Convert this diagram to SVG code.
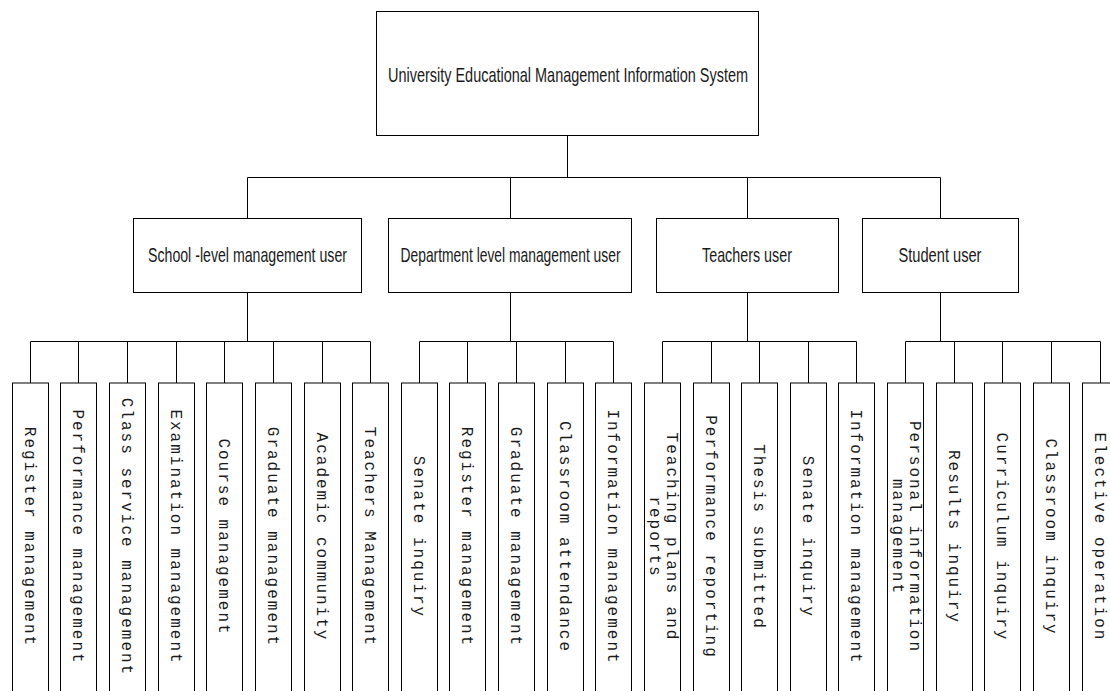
<svg xmlns="http://www.w3.org/2000/svg" width="1110" height="691" viewBox="0 0 1110 691">
<style>
.box{fill:#fff;stroke:#000;stroke-width:1}
.ln{fill:none;stroke:#000;stroke-width:1}
.hd{font-family:"Liberation Sans Narrow","Liberation Sans",Arial,sans-serif;font-size:18px;fill:#1a1a1a;text-anchor:middle}
.lf{font-family:"Liberation Mono","Courier New",monospace;font-size:16px;letter-spacing:2px;fill:#1a1a1a;text-anchor:middle;dominant-baseline:central}
</style>
<rect width="1110" height="691" fill="#fff"/>
<g id="connectors">
<path class="ln" d="M567.5 135.5V177.5M247.5 177.5H940.5M247.5 177.5V218.5M510.5 177.5V218.5M747.5 177.5V218.5M940.5 177.5V218.5"/>
<path class="ln" d="M247.5 292.5V341.5M510.5 292.5V341.5M747.5 292.5V341.5M940.5 292.5V341.5"/>
<path class="ln" d="M30.5 341.5H370.5M419.5 341.5H613.5M662.5 341.5H856.5M905.5 341.5H1100.5"/>
<path class="ln" d="M30.5 341.5V383M78.5 341.5V383M127.5 341.5V383M176.5 341.5V383M224.5 341.5V383M273.5 341.5V383M322.5 341.5V383M370.5 341.5V383M419.5 341.5V383M467.5 341.5V383M516.5 341.5V383M565.5 341.5V383M613.5 341.5V383M662.5 341.5V383M711.5 341.5V383M759.5 341.5V383M808.5 341.5V383M856.5 341.5V383M905.5 341.5V383M954.5 341.5V383M1002.5 341.5V383M1051.5 341.5V383M1100.5 341.5V383"/>
</g>
<g id="root"><rect class="box" x="376.5" y="11.5" width="382" height="124"/><text class="hd" transform="translate(568 82) scale(1 1.15)" x="0" y="0" textLength="360" lengthAdjust="spacingAndGlyphs">University Educational Management Information System</text></g>
<g id="school"><rect class="box" x="133.5" y="218.5" width="228" height="74"/><text class="hd" transform="translate(247.5 261.5) scale(1 1.15)" x="0" y="0" textLength="199" lengthAdjust="spacingAndGlyphs">School -level management user</text></g>
<g id="dept"><rect class="box" x="388.5" y="218.5" width="243" height="74"/><text class="hd" transform="translate(510.5 261.5) scale(1 1.15)" x="0" y="0" textLength="220" lengthAdjust="spacingAndGlyphs">Department level management user</text></g>
<g id="teachers"><rect class="box" x="656.5" y="218.5" width="182" height="74"/><text class="hd" transform="translate(747 261.5) scale(1 1.15)" x="0" y="0" textLength="90" lengthAdjust="spacingAndGlyphs">Teachers user</text></g>
<g id="student"><rect class="box" x="862.5" y="218.5" width="156" height="74"/><text class="hd" transform="translate(940 261.5) scale(1 1.15)" x="0" y="0" textLength="83" lengthAdjust="spacingAndGlyphs">Student user</text></g>
<g id="l1"><rect class="box" x="12.5" y="383" width="36" height="320"/><text class="lf" x="30.5" y="538.5" transform="rotate(90 30.5 537)">Register management</text></g>
<g id="l2"><rect class="box" x="60.5" y="383" width="36" height="320"/><text class="lf" x="78.5" y="538.5" transform="rotate(90 78.5 537)">Performance management</text></g>
<g id="l3"><rect class="box" x="109.5" y="383" width="36" height="320"/><text class="lf" x="127.5" y="538.5" transform="rotate(90 127.5 537)">Class service management</text></g>
<g id="l4"><rect class="box" x="158.5" y="383" width="36" height="320"/><text class="lf" x="176.5" y="538.5" transform="rotate(90 176.5 537)">Examination management</text></g>
<g id="l5"><rect class="box" x="206.5" y="383" width="36" height="320"/><text class="lf" x="224.5" y="538.5" transform="rotate(90 224.5 537)">Course management</text></g>
<g id="l6"><rect class="box" x="255.5" y="383" width="36" height="320"/><text class="lf" x="273.5" y="538.5" transform="rotate(90 273.5 537)">Graduate management</text></g>
<g id="l7"><rect class="box" x="304.5" y="383" width="36" height="320"/><text class="lf" x="322.5" y="538.5" transform="rotate(90 322.5 537)">Academic community</text></g>
<g id="l8"><rect class="box" x="352.5" y="383" width="36" height="320"/><text class="lf" x="370.5" y="538.5" transform="rotate(90 370.5 537)">Teachers Management</text></g>
<g id="l9"><rect class="box" x="401.5" y="383" width="36" height="320"/><text class="lf" x="419.5" y="538.5" transform="rotate(90 419.5 537)">Senate inquiry</text></g>
<g id="l10"><rect class="box" x="449.5" y="383" width="36" height="320"/><text class="lf" x="467.5" y="538.5" transform="rotate(90 467.5 537)">Register management</text></g>
<g id="l11"><rect class="box" x="498.5" y="383" width="36" height="320"/><text class="lf" x="516.5" y="538.5" transform="rotate(90 516.5 537)">Graduate management</text></g>
<g id="l12"><rect class="box" x="547.5" y="383" width="36" height="320"/><text class="lf" x="565.5" y="538.5" transform="rotate(90 565.5 537)">Classroom attendance</text></g>
<g id="l13"><rect class="box" x="595.5" y="383" width="36" height="320"/><text class="lf" x="613.5" y="538.5" transform="rotate(90 613.5 537)">Information management</text></g>
<g id="l14"><rect class="box" x="644.5" y="383" width="36" height="320"/><text class="lf" transform="rotate(90 662.5 537)"><tspan x="662.5" y="529">Teaching plans and</tspan><tspan x="662.5" y="546">reports</tspan></text></g>
<g id="l15"><rect class="box" x="693.5" y="383" width="36" height="320"/><text class="lf" x="711.5" y="538.5" transform="rotate(90 711.5 537)">Performance reporting</text></g>
<g id="l16"><rect class="box" x="741.5" y="383" width="36" height="320"/><text class="lf" x="759.5" y="538.5" transform="rotate(90 759.5 537)">Thesis submitted</text></g>
<g id="l17"><rect class="box" x="790.5" y="383" width="36" height="320"/><text class="lf" x="808.5" y="538.5" transform="rotate(90 808.5 537)">Senate inquiry</text></g>
<g id="l18"><rect class="box" x="838.5" y="383" width="36" height="320"/><text class="lf" x="856.5" y="538.5" transform="rotate(90 856.5 537)">Information management</text></g>
<g id="l19"><rect class="box" x="887.5" y="383" width="36" height="320"/><text class="lf" transform="rotate(90 905.5 537)"><tspan x="905.5" y="529">Personal information</tspan><tspan x="905.5" y="546">management</tspan></text></g>
<g id="l20"><rect class="box" x="936.5" y="383" width="36" height="320"/><text class="lf" x="954.5" y="538.5" transform="rotate(90 954.5 537)">Results inquiry</text></g>
<g id="l21"><rect class="box" x="984.5" y="383" width="36" height="320"/><text class="lf" x="1002.5" y="538.5" transform="rotate(90 1002.5 537)">Curriculum inquiry</text></g>
<g id="l22"><rect class="box" x="1033.5" y="383" width="36" height="320"/><text class="lf" x="1051.5" y="538.5" transform="rotate(90 1051.5 537)">Classroom inquiry</text></g>
<g id="l23"><rect class="box" x="1082.5" y="383" width="36" height="320"/><text class="lf" x="1100.5" y="538.5" transform="rotate(90 1100.5 537)">Elective operation</text></g>
</svg>
